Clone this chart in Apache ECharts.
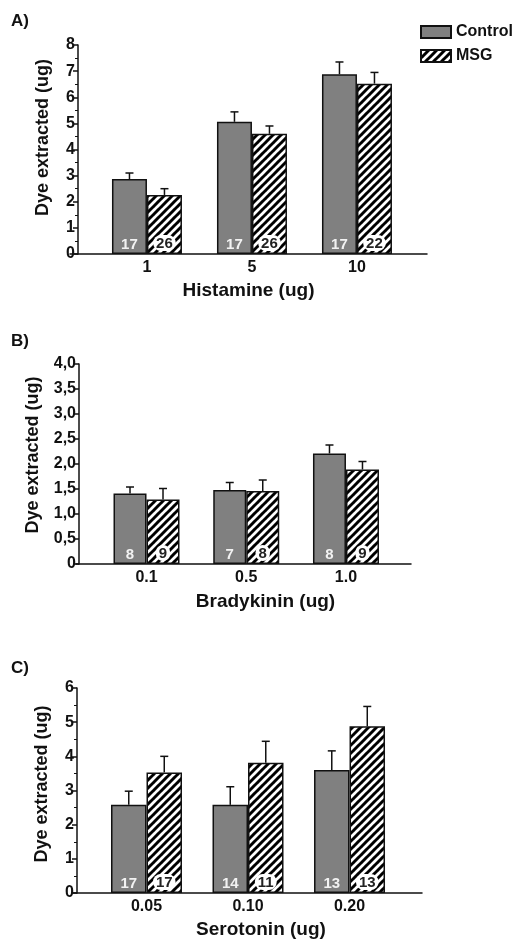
<!DOCTYPE html>
<html>
<head>
<meta charset="utf-8">
<script src="https://cdn.jsdelivr.net/npm/echarts@6/dist/echarts.min.js"></script>
<style>html,body{margin:0;padding:0;background:#fff}#main{width:517px;height:942px}</style>
</head>
<body>
<div id="main"></div>
<script>
// A) Histamine
var catsA = ['1', '5', '10'];
var ctrlA = [2.87, 5.06, 6.88];
var ctrlErrA = [0.23, 0.38, 0.47];
var msgA = [2.26, 4.6, 6.52];
var msgErrA = [0.24, 0.3, 0.43];
var nCtrlA = [17, 17, 17];
var nMsgA = [26, 26, 22];

// B) Bradykinin
var catsB = ['0.1', '0.5', '1.0'];
var ctrlB = [1.41, 1.48, 2.21];
var ctrlErrB = [0.13, 0.15, 0.17];
var msgB = [1.29, 1.46, 1.89];
var msgErrB = [0.22, 0.22, 0.16];
var nCtrlB = [8, 7, 8];
var nMsgB = [9, 8, 9];

// C) Serotonin
var catsC = ['0.05', '0.10', '0.20'];
var ctrlC = [2.58, 2.58, 3.6];
var ctrlErrC = [0.4, 0.53, 0.56];
var msgC = [3.53, 3.81, 4.88];
var msgErrC = [0.47, 0.63, 0.58];
var nCtrlC = [17, 14, 13];
var nMsgC = [17, 11, 13];

var font = 'Liberation Sans, Arial, sans-serif';
var ink = '#111';

// diagonal hatch for MSG bars
var hatch = document.createElement('canvas');
hatch.width = 8; hatch.height = 8;
var ctx = hatch.getContext('2d');
ctx.fillStyle = '#fff';
ctx.fillRect(0, 0, 8, 8);
ctx.strokeStyle = '#000';
ctx.lineWidth = 3;
for (var k = -1; k <= 1; k++) {
    ctx.beginPath();
    ctx.moveTo(k * 8 - 1, 9);
    ctx.lineTo(k * 8 + 9, -1);
    ctx.stroke();
}

function errBar(shift) {
    return function (params, api) {
        var base = api.coord([api.value(0), api.value(1)]);
        var top = api.coord([api.value(0), api.value(1) + api.value(2)]);
        var x = base[0] + shift;
        return {
            type: 'group',
            children: [
                {type: 'line', shape: {x1: x, y1: base[1], x2: x, y2: top[1]}, style: {stroke: ink, lineWidth: 1.5}},
                {type: 'line', shape: {x1: x - 4, y1: top[1], x2: x + 4, y2: top[1]}, style: {stroke: ink, lineWidth: 1.5}}
            ]
        };
    };
}

function panelSeries(idx, ctrl, ctrlErr, msg, msgErr, nCtrl, nMsg, barW) {
    return [{
        name: 'Control', type: 'bar', xAxisIndex: idx, yAxisIndex: idx,
        barWidth: barW, barGap: '0%',
        itemStyle: {color: '#808080', borderColor: ink, borderWidth: 1.5},
        data: ctrl.map(function (v, i) { return [i, v]; }),
        label: {
            show: true, position: 'insideBottom', distance: 2,
            formatter: function (p) { return nCtrl[p.dataIndex]; },
            color: '#f2f2f2', fontWeight: 'bold', fontSize: 15, fontFamily: font
        }
    }, {
        name: 'MSG', type: 'bar', xAxisIndex: idx, yAxisIndex: idx,
        barWidth: barW, barGap: '0%',
        itemStyle: {color: {image: hatch, repeat: 'repeat'}, borderColor: ink, borderWidth: 1.5},
        data: msg.map(function (v, i) { return [i, v]; }),
        label: {
            show: true, position: 'insideBottom', distance: 3,
            formatter: function (p) { return nMsg[p.dataIndex]; },
            color: '#222', fontWeight: 'bold', fontSize: 15, fontFamily: font,
            backgroundColor: '#fff', borderRadius: 9, padding: [1, 3, 0, 3]
        }
    }, {
        type: 'custom', coordinateSystem: 'cartesian2d', xAxisIndex: idx, yAxisIndex: idx, z: 3,
        renderItem: errBar(-barW / 2),
        data: ctrl.map(function (v, i) { return [i, v, ctrlErr[i]]; })
    }, {
        type: 'custom', coordinateSystem: 'cartesian2d', xAxisIndex: idx, yAxisIndex: idx, z: 3,
        renderItem: errBar(barW / 2),
        data: msg.map(function (v, i) { return [i, v, msgErr[i]]; })
    }];
}

function xAx(idx, cats, min, max, name, gap, pad) {
    return {
        gridIndex: idx, type: 'value', min: min, max: max,
        axisLine: {show: true, onZero: false, lineStyle: {color: ink, width: 1.5}},
        axisTick: {show: false}, splitLine: {show: false},
        axisLabel: {
            customValues: [0, 1, 2], margin: 6,
            formatter: function (v) { return cats[Math.round(v)]; },
            color: ink, fontWeight: 'bold', fontSize: 16, fontFamily: font
        },
        name: name, nameLocation: 'middle', nameGap: gap,
        nameTextStyle: {color: ink, fontWeight: 'bold', fontSize: 19, fontFamily: font, padding: [0, 0, 0, pad]}
    };
}

function yAx(idx, max, interval, minor, fmt, gap, pad, offset) {
    return {
        gridIndex: idx, type: 'value', min: 0, max: max, interval: interval, offset: offset,
        axisLine: {show: true, onZero: false, lineStyle: {color: ink, width: 1.5}},
        axisTick: {show: true, length: 5, lineStyle: {color: ink, width: 1.5}},
        minorTick: {show: minor, splitNumber: 2, length: 3, lineStyle: {color: ink}},
        splitLine: {show: false},
        axisLabel: {formatter: fmt, margin: 3, color: ink, fontWeight: 'bold', fontSize: 16, fontFamily: font},
        name: 'Dye extracted (ug)', nameLocation: 'middle', nameGap: gap,
        nameTextStyle: {color: ink, fontWeight: 'bold', fontSize: 18, fontFamily: font, padding: [0, 0, 0, pad]}
    };
}

var chart = echarts.init(document.getElementById('main'));
var option = {
    backgroundColor: '#fff',
    animation: false,
    title: [
        {text: 'A)', left: 6, top: 8},
        {text: 'B)', left: 6, top: 328},
        {text: 'C)', left: 6, top: 655}
    ].map(function (t) {
        t.textStyle = {color: ink, fontWeight: 'bold', fontSize: 17, fontFamily: font};
        return t;
    }),
    legend: {
        data: ['Control', 'MSG'], orient: 'vertical', left: 415, top: 19,
        itemWidth: 30, itemHeight: 12, itemGap: 8, icon: 'rect',
        textStyle: {color: ink, fontWeight: 'bold', fontSize: 16, fontFamily: font}
    },
    grid: [
        {left: 70, top: 45, width: 357, height: 209},
        {left: 76, top: 364, width: 335, height: 200},
        {left: 72, top: 688, width: 350, height: 205}
    ],
    xAxis: [
        xAx(0, catsA, -0.733, 2.667, 'Histamine (ug)', 27, 0),
        xAx(1, catsB, -0.707, 2.652, 'Bradykinin (ug)', 28, 44),
        xAx(2, catsC, -0.734, 2.714, 'Serotonin (ug)', 27, 28)
    ],
    yAxis: [
        yAx(0, 8, 1, true, null, 26, 24, -8),
        yAx(1, 4, 0.5, false, function (v) { return v === 0 ? '0' : v.toFixed(1).replace('.', ','); }, 37, 18, -3),
        yAx(2, 6, 1, true, null, 26, 13, -5)
    ],
    series: [].concat(
        panelSeries(0, ctrlA, ctrlErrA, msgA, msgErrA, nCtrlA, nMsgA, 35),
        panelSeries(1, ctrlB, ctrlErrB, msgB, msgErrB, nCtrlB, nMsgB, 33),
        panelSeries(2, ctrlC, ctrlErrC, msgC, msgErrC, nCtrlC, nMsgC, 35.5)
    )
};
chart.setOption(option);
</script>
</body>
</html>
